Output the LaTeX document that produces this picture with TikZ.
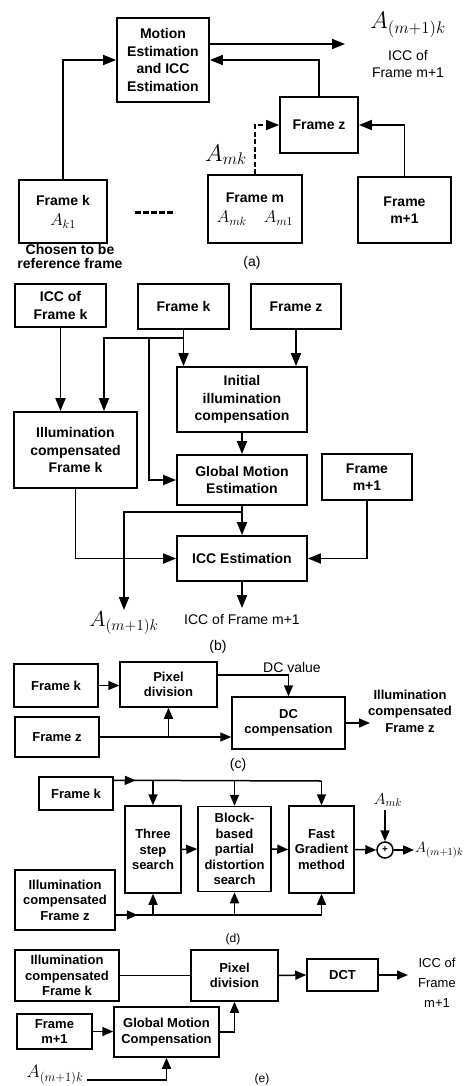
\RequirePackage{fix-cm}
\documentclass[tikz,border=0pt]{standalone}
\usepackage{amsmath}
\usepackage{fontspec}
\setmainfont{Liberation Sans}
\usetikzlibrary{arrows.meta,calc,decorations.markings}

\begin{document}
\begin{tikzpicture}[x=1pt, y=-1pt,
    box/.style={draw, line width=1.8pt, align=center, inner sep=1pt, font=\bfseries\fontsize{14}{17.5}\selectfont},
    sbox/.style={draw, line width=1.5pt, align=center, inner sep=1pt, font=\bfseries\fontsize{13}{15.5}\selectfont},
    arr/.style={line width=1.8pt, -{Triangle[length=13pt,width=10pt]}},
    sarr/.style={line width=1.5pt, -{Triangle[length=11pt,width=9pt]}},
    sline/.style={line width=1.5pt},
    midarr/.style={postaction={decorate}, decoration={markings, mark=at position #1 with {\arrow{Triangle[length=11pt,width=9pt]}}}},
    lbl/.style={font=\fontsize{14}{17}\selectfont, align=center}]
    \useasboundingbox (0,0) rectangle (465,1086);

    % (a) estimation of the ICC of frame m+1
    \node[box, minimum width=92pt, minimum height=84pt] (me) at (163,60) {Motion\\Estimation\\and ICC\\Estimation};
    \node[box, minimum width=88pt, minimum height=63pt] (fk) at (63,211.5) {Frame k\\[3pt]\mdseries\fontsize{17}{17}\selectfont$A_{k1}$};
    \node[box, minimum width=94pt, minimum height=68pt] (fm) at (255,209) {Frame m\\[3pt]\mdseries\fontsize{17}{17}\selectfont$A_{mk}$\quad$A_{m1}$};
    \node[box, minimum width=78pt, minimum height=56pt] (fz) at (319,125) {Frame z};
    \node[box, minimum width=93pt, minimum height=66pt] (fmn) at (404.5,210) {Frame\\m+1};
    \coordinate (aout) at (345,44);
    \draw[arr] (me.east |- aout) -- (aout);
    \draw[arr] (fk.north) |- (me.west);
    \draw[arr] (fz.north) |- (me.east);
    \draw[arr, dash pattern=on 5pt off 2.5pt] (fm.north) |- (fz.west);
    \draw[arr] (fmn.north) |- (fz.east);
    \draw[line width=3pt, dash pattern=on 6pt off 2pt] (135,212) -- (175,212);
    \node[font=\fontsize{24}{24}\selectfont] (aoutl) at (408,25) {$A_{(m+1)k}$};
    \node[lbl] (iccoutl) at (408,64) {ICC of\\Frame m+1};
    \node[font=\fontsize{24}{24}\selectfont] (amk) at (226,155) {$A_{mk}$};
    \node[font=\bfseries\fontsize{14}{14}\selectfont, align=center] (chosen) at (70,256.5) {Chosen to be\\reference frame};
    \node[lbl] (capa) at (252,263) {(a)};

    % (b) ICC estimation
    \node[box, minimum width=91pt, minimum height=43pt] (icck) at (60.5,305.5) {ICC of\\Frame k};
    \node[box, minimum width=91pt, minimum height=45pt] (bfk) at (183.5,306.5) {Frame k};
    \node[box, minimum width=90pt, minimum height=45pt] (bfz) at (296,306.5) {Frame z};
    \node[box, minimum width=130pt, minimum height=65pt] (init) at (242,399.5) {Initial\\illumination\\compensation};
    \node[box, minimum width=123pt, minimum height=76pt] (icfk) at (75.5,450) {Illumination\\compensated\\Frame k};
    \node[box, minimum width=130pt, minimum height=50pt] (gme) at (242,480) {Global Motion\\Estimation};
    \node[box, minimum width=90pt, minimum height=46pt] (bfmn) at (367,477) {Frame\\m+1};
    \node[box, minimum width=130pt, minimum height=45pt] (icce) at (242,558.5) {ICC Estimation};
    \coordinate (kfork) at (183.5,338);
    \coordinate (kleft) at (104,338);
    \coordinate (kmid) at (149,338);
    \coordinate (gfork) at (242,512);
    \coordinate (aleft) at (124,610);
    \coordinate (iccb) at (242,608);
    \draw[arr] (icck.south) -- (icck.south |- icfk.north);
    \draw[arr] (bfk.south) -- (bfk.south |- init.north);
    \draw[arr] (bfz.south) -- (bfz.south |- init.north);
    \draw[arr] (kfork) -- (kleft) -- (kleft |- icfk.north);
    \draw[arr] (kmid) |- (gme.west);
    \draw[arr] (init.south) -- (gme.north);
    \draw[arr] (gme.south) -- (icce.north);
    \draw[arr] (gfork) -| (aleft);
    \draw[arr] (icfk.south) |- (icce.west);
    \draw[arr] (bfmn.south) |- (icce.east);
    \draw[arr] (icce.south) -- (iccb);
    \node[font=\fontsize{22}{22}\selectfont] (amn) at (124,623) {$A_{(m+1)k}$};
    \node[lbl] (iccbl) at (242,619) {ICC of Frame m+1};
    \node[lbl] (capb) at (218,647) {(b)};

    % (c) initial illumination compensation
    \node[sbox, minimum width=84pt, minimum height=43pt] (cfk) at (56,685.5) {Frame k};
    \node[sbox, minimum width=97pt, minimum height=45pt] (pix) at (168.5,684.5) {Pixel\\division};
    \node[sbox, minimum width=113pt, minimum height=52pt] (dcc) at (288.5,723) {DC\\compensation};
    \node[sbox, minimum width=84pt, minimum height=40pt] (cfz) at (57,737) {Frame z};
    \coordinate (dcv) at (217,675);
    \coordinate (cout) at (370,723);
    \draw[sarr] (cfk.east) -- (cfk.east -| pix.west);
    \draw[sarr] (pix.east |- dcv) -| (dcc.north);
    \draw[sarr] (cfz.east) -- (cfz.east -| dcc.west);
    \draw[sarr] (pix.south |- cfz.east) -- (pix.south);
    \draw[sarr] (dcc.east) -- (cout);
    \node[lbl] (dcvl) at (292,667) {DC value};
    \node[font=\bfseries\fontsize{13}{16.5}\selectfont, align=center] (icfz) at (410,711) {Illumination\\compensated\\Frame z};
    \node[lbl] (capc) at (238,765) {(c)};

    % (d) global motion estimation
    \node[sbox, minimum width=74pt, minimum height=33pt] (dfk) at (76,793.5) {Frame k};
    \node[sbox, minimum width=56pt, minimum height=87pt] (tss) at (153,849.5) {Three\\step\\search};
    \node[sbox, minimum width=73pt, minimum height=85pt] (bpd) at (234.5,849) {Block-\\based\\partial\\distortion\\search};
    \node[sbox, minimum width=65pt, minimum height=87pt] (fgm) at (321.5,849.5) {Fast\\Gradient\\method};
    \node[draw, circle, line width=1.5pt, inner sep=0pt, minimum size=16pt, font=\bfseries] (sum) at (385,850) {+};
    \node[sbox, minimum width=100pt, minimum height=60pt] (dicz) at (65,900) {Illumination\\compensated\\Frame z};
    \coordinate (ktop) at (321.5,781);
    \coordinate (zbot) at (321.5,915);
    \coordinate (dout) at (414,850);
    \draw[sline, midarr=22pt] ([yshift=-4pt]dfk.north east) -- (ktop);
    \draw[sline, midarr=22pt] (dicz.east |- zbot) -- (zbot);
    \draw[sarr] (tss.north |- ktop) -- (tss.north);
    \draw[sarr] (bpd.north |- ktop) -- (bpd.north);
    \draw[sarr] (fgm.north |- ktop) -- (fgm.north);
    \draw[sarr] (tss.south |- zbot) -- (tss.south);
    \draw[sarr] (bpd.south |- zbot) -- (bpd.south);
    \draw[sarr] (fgm.south |- zbot) -- (fgm.south);
    \draw[sarr] (tss.east) -- (bpd.west);
    \draw[sarr] (bpd.east) -- (fgm.west);
    \draw[sarr] (fgm.east) -- (sum.west);
    \draw[sarr] (sum.east) -- (dout);
    \node[font=\fontsize{15}{15}\selectfont, anchor=west, inner sep=1pt] (dam) at (dout) {$A_{(m+1)k}$};
    \node[font=\fontsize{16}{16}\selectfont] (dmk) at (388,800) {$A_{mk}$};
    \draw[sarr] (dmk.south -| sum.north) -- (sum.north);
    \node[lbl, font=\fontsize{12}{12}\selectfont] (capd) at (233,939) {(d)};

    % (e) ICC computation
    \node[sbox, minimum width=104pt, minimum height=51pt] (eicfk) at (67,975.5) {Illumination\\compensated\\Frame k};
    \node[sbox, minimum width=87pt, minimum height=51pt] (epix) at (234.5,975.5) {Pixel\\division};
    \node[sbox, minimum width=71pt, minimum height=32pt] (dct) at (342.5,975) {DCT};
    \node[sbox, minimum width=75pt, minimum height=35pt] (efmn) at (54.5,1031.5) {Frame\\m+1};
    \node[sbox, minimum width=105pt, minimum height=50pt] (gmc) at (166.5,1032) {Global Motion\\Compensation};
    \coordinate (eout) at (408,975);
    \coordinate (ebot) at (166.5,1080);
    \draw[sline] (eicfk.east) -- (epix.west);
    \draw[sarr] (epix.east) -- (dct.west);
    \draw[sarr] (dct.east) -- (eout);
    \draw[sarr] (efmn.east) -- (efmn.east -| gmc.west);
    \draw[sarr] (gmc.east) -| (epix.south);
    \node[font=\fontsize{18}{18}\selectfont] (eam) at (55,1075) {$A_{(m+1)k}$};
    \draw[sarr] (eam.east |- ebot) -| (gmc.south);
    \node[font=\fontsize{13}{20}\selectfont, align=center] (eiccl) at (437,983) {ICC of\\Frame\\m+1};
    \node[lbl, font=\fontsize{12}{12}\selectfont] (cape) at (262,1079) {(e)};
\end{tikzpicture}
\end{document}
